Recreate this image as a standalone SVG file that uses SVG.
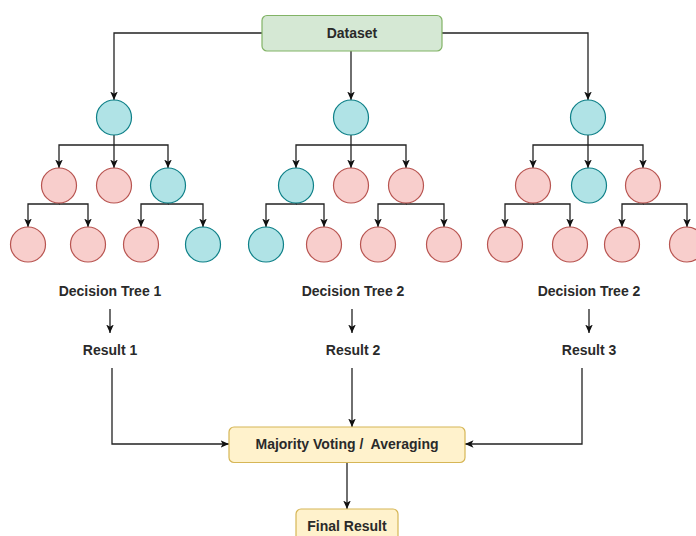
<svg xmlns="http://www.w3.org/2000/svg" width="696" height="536" viewBox="0 0 696 536">
<defs>
<marker id="arr" viewBox="0 0 10 10" refX="10" refY="5" markerWidth="8.5" markerHeight="8.5" markerUnits="userSpaceOnUse" orient="auto">
<path d="M0,0.5 L10,5 L0,9.5 L2.5,5 z" fill="#111"/>
</marker>
<style>
.c{fill:#b0e3e6;stroke:#0e8088;stroke-width:1.2}
.p{fill:#f8cecc;stroke:#b85450;stroke-width:1.2}
.e{fill:none;stroke:#222;stroke-width:1.3}
.a{marker-end:url(#arr)}
.t{font-family:"Liberation Sans",Arial,sans-serif;font-size:14px;font-weight:bold;fill:#2a2a2a;text-anchor:middle}
</style>
</defs>
<rect width="696" height="536" fill="#fff"/>
<g id="connectors">
<path class="e a" d="M262,33 H114 V100"/>
<path class="e a" d="M351,51 V100"/>
<path class="e a" d="M442,33 H588 V100"/>
<!-- tree 1 -->
<path class="e a" d="M114,135 V168"/>
<path class="e a" d="M114,145 H59 V168"/>
<path class="e a" d="M114,145 H168 V168"/>
<path class="e a" d="M59,203 V204 H28 V227"/>
<path class="e a" d="M59,204 H88 V227"/>
<path class="e a" d="M168,203 V204 H141 V227"/>
<path class="e a" d="M168,204 H203 V227"/>
<!-- tree 2 -->
<path class="e a" d="M351,135 V168"/>
<path class="e a" d="M351,145 H296 V168"/>
<path class="e a" d="M351,145 H406 V168"/>
<path class="e a" d="M296,203 V204 H266 V227"/>
<path class="e a" d="M296,204 H324 V227"/>
<path class="e a" d="M406,203 V204 H378 V227"/>
<path class="e a" d="M406,204 H444 V227"/>
<!-- tree 3 -->
<path class="e a" d="M588,135 V168"/>
<path class="e a" d="M588,145 H533 V168"/>
<path class="e a" d="M588,145 H643 V168"/>
<path class="e a" d="M533,203 V204 H505 V227"/>
<path class="e a" d="M533,204 H570 V227"/>
<path class="e a" d="M643,203 V204 H622 V227"/>
<path class="e a" d="M643,204 H687 V227"/>
<!-- results -->
<path class="e a" d="M110,309 V333"/>
<path class="e a" d="M352,309 V333"/>
<path class="e a" d="M589,309 V333"/>
<path class="e a" d="M112,368 V444 H229"/>
<path class="e a" d="M352,368 V427"/>
<path class="e a" d="M582,368 V444 H465"/>
<path class="e a" d="M347,462 V509"/>
</g>
<g id="dataset">
<rect x="262" y="15.5" width="180" height="35.5" rx="5" fill="#d5e8d4" stroke="#82b366" stroke-width="1.2"/>
<text class="t" x="352" y="38">Dataset</text>
</g>
<g id="tree1">
<circle class="c" cx="114" cy="117.5" r="17.5"/>
<circle class="p" cx="59" cy="185.5" r="17.5"/>
<circle class="p" cx="114" cy="185.5" r="17.5"/>
<circle class="c" cx="168" cy="185.5" r="17.5"/>
<circle class="p" cx="28" cy="244.5" r="17.5"/>
<circle class="p" cx="88" cy="244.5" r="17.5"/>
<circle class="p" cx="141" cy="244.5" r="17.5"/>
<circle class="c" cx="203" cy="244.5" r="17.5"/>
</g>
<g id="tree2">
<circle class="c" cx="351" cy="117.5" r="17.5"/>
<circle class="c" cx="296" cy="185.5" r="17.5"/>
<circle class="p" cx="351" cy="185.5" r="17.5"/>
<circle class="p" cx="406" cy="185.5" r="17.5"/>
<circle class="c" cx="266" cy="244.5" r="17.5"/>
<circle class="p" cx="324" cy="244.5" r="17.5"/>
<circle class="p" cx="378" cy="244.5" r="17.5"/>
<circle class="p" cx="444" cy="244.5" r="17.5"/>
</g>
<g id="tree3">
<circle class="c" cx="588" cy="117.5" r="17.5"/>
<circle class="p" cx="533" cy="185.5" r="17.5"/>
<circle class="c" cx="589" cy="185.5" r="17.5"/>
<circle class="p" cx="643" cy="185.5" r="17.5"/>
<circle class="p" cx="505" cy="244.5" r="17.5"/>
<circle class="p" cx="570" cy="244.5" r="17.5"/>
<circle class="p" cx="622" cy="244.5" r="17.5"/>
<circle class="p" cx="687" cy="244.5" r="17.5"/>
</g>
<g id="label-tree1"><text class="t" x="110" y="296">Decision Tree 1</text></g>
<g id="label-tree2"><text class="t" x="353" y="296">Decision Tree 2</text></g>
<g id="label-tree3"><text class="t" x="589" y="296">Decision Tree 2</text></g>
<g id="result1"><text class="t" x="110" y="355">Result 1</text></g>
<g id="result2"><text class="t" x="353" y="355">Result 2</text></g>
<g id="result3"><text class="t" x="589" y="355">Result 3</text></g>
<g id="majority">
<rect x="229" y="427" width="236" height="35.5" rx="5" fill="#fff2cc" stroke="#d6b656" stroke-width="1.2"/>
<text class="t" x="347" y="449" style="white-space:pre">Majority Voting /  Averaging</text>
</g>
<g id="final">
<rect x="296" y="509" width="102" height="36" rx="5" fill="#fff2cc" stroke="#d6b656" stroke-width="1.2"/>
<text class="t" x="347" y="531">Final Result</text>
</g>
</svg>
